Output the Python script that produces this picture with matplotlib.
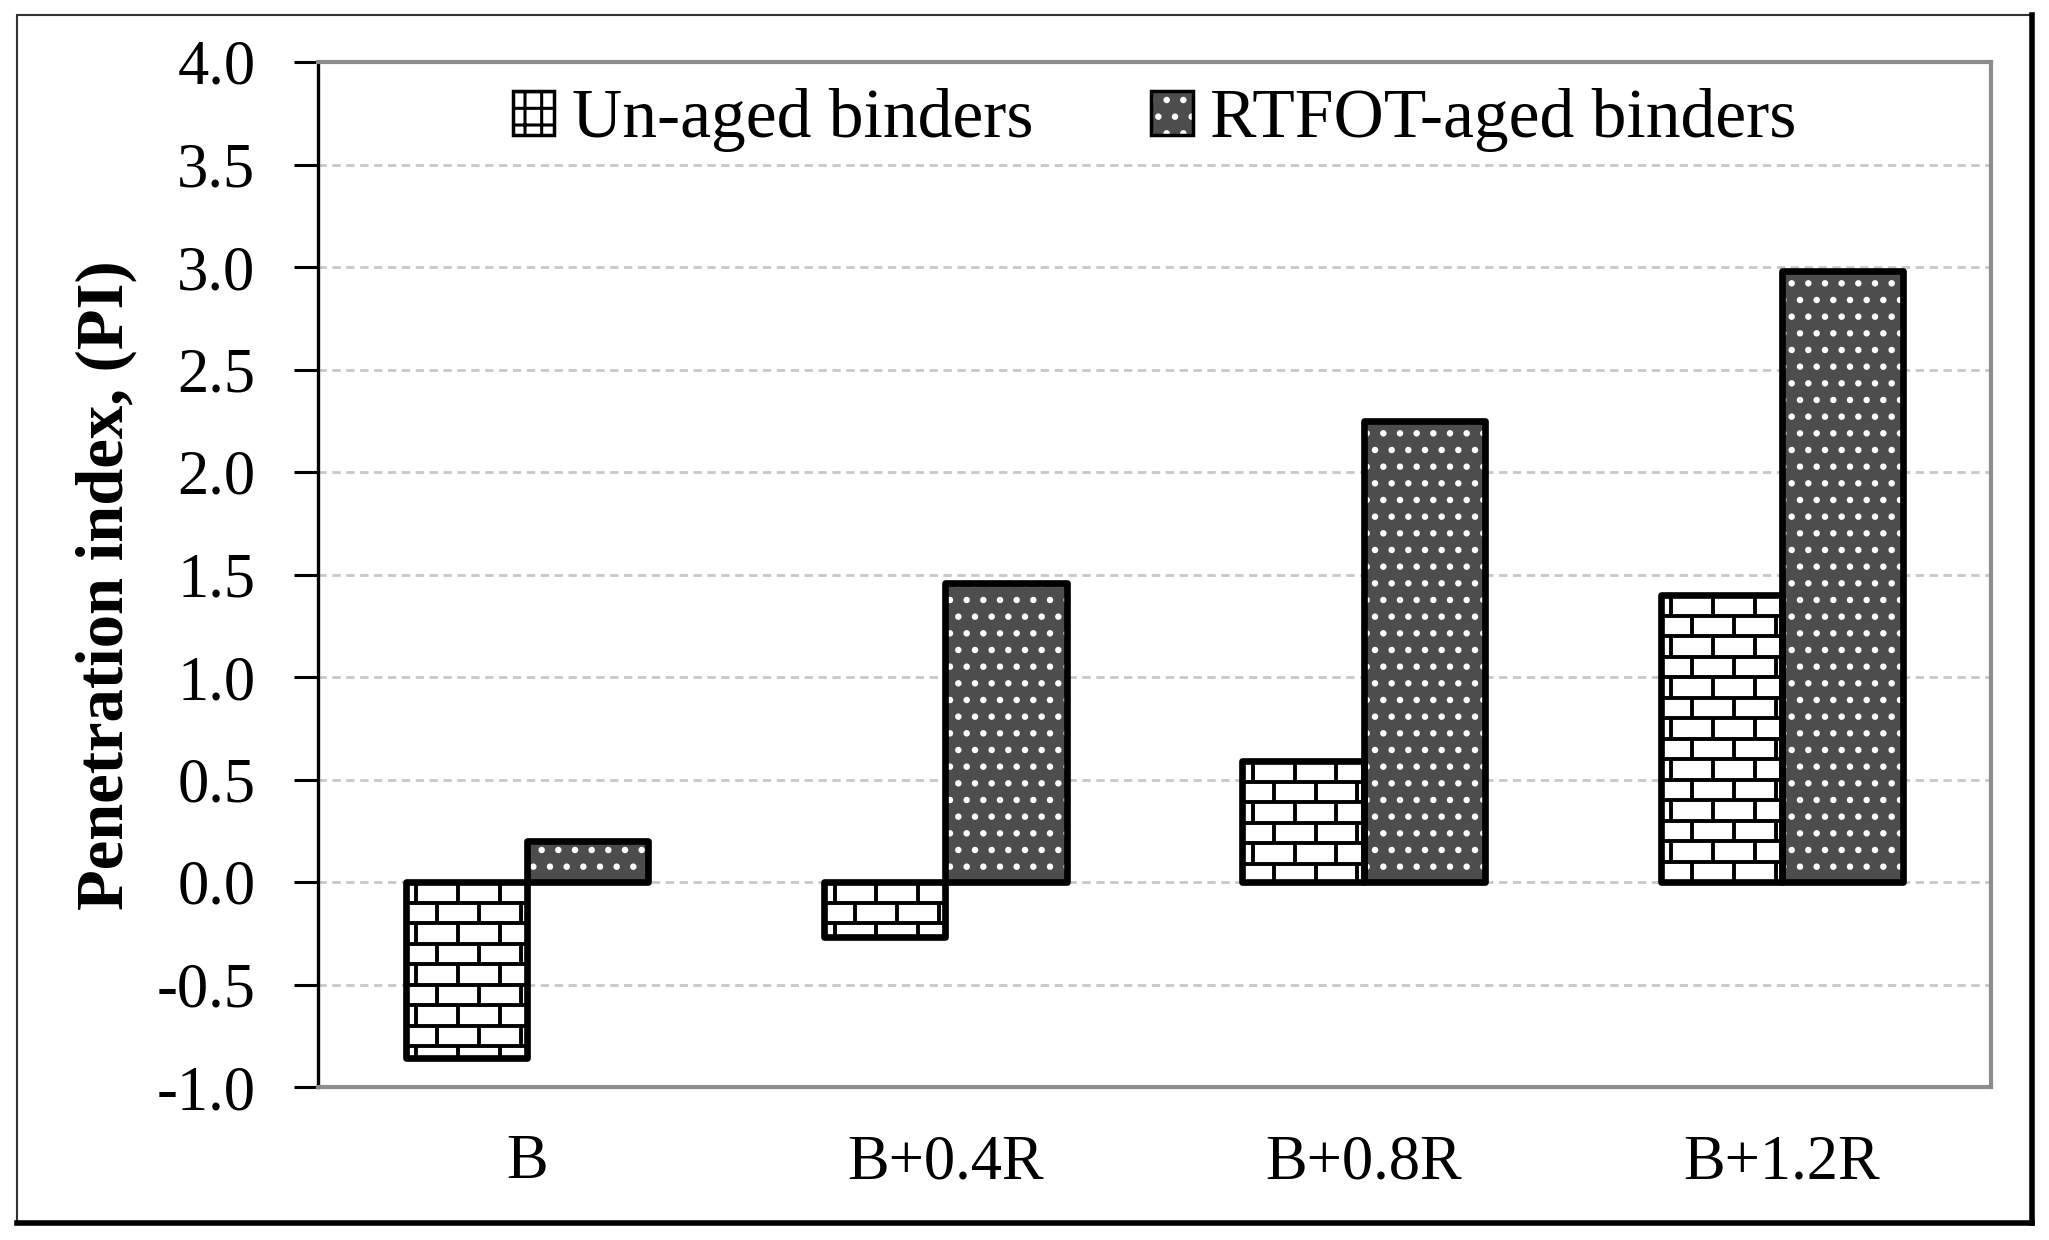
import matplotlib
matplotlib.use("Agg")
import matplotlib.pyplot as plt
import numpy as np
from matplotlib.patches import Rectangle, Patch
from matplotlib.lines import Line2D

# data
binders = ["B", "B+0.4R", "B+0.8R", "B+1.2R"]
unaged = [-0.86, -0.27, 0.59, 1.40]
rtfot = [0.20, 1.46, 2.25, 2.98]
yticks = [-1.0, -0.5, 0.0, 0.5, 1.0, 1.5, 2.0, 2.5, 3.0, 3.5, 4.0]

plt.rcParams["font.family"] = ["Liberation Serif", "DejaVu Serif"]
plt.rcParams["hatch.linewidth"] = 2.2

W, H = 2049, 1240
fig = plt.figure(figsize=(W / 100, H / 100), dpi=100)
ax = fig.add_axes([318 / W, 1 - 1087 / H, (1991 - 318) / W, (1087 - 62) / H])

x = np.arange(len(binders))
w = 0.29
dark = "#4d4d4d"

# un-aged: white bars with brick pattern
b1 = ax.bar(x - w / 2, unaged, w, color="white", edgecolor="none", zorder=2)
# RTFOT: dark fill with white dots
b2 = ax.bar(x + w / 2, rtfot, w, color=dark, edgecolor="white", hatch=".",
            linewidth=0, zorder=2)

# brick lines, clipped to each un-aged bar
row_h = 0.1
brick_w = 0.1
for rect in b1.patches:
    x0 = rect.get_x()
    x1 = x0 + rect.get_width()
    ylo = min(rect.get_y(), rect.get_y() + rect.get_height())
    yhi = max(rect.get_y(), rect.get_y() + rect.get_height())
    ys = np.arange(yhi, ylo - row_h, -row_h)
    for i in range(len(ys) - 1):
        ln = ax.plot([x0, x1], [ys[i + 1], ys[i + 1]], color="black", lw=2.8,
                     zorder=3, solid_capstyle="butt")[0]
        ln.set_clip_path(rect)
        start = x0 + (brick_w / 4 if i % 2 == 0 else brick_w * 0.75)
        for xv in np.arange(start, x1, brick_w):
            vl = ax.plot([xv, xv], [ys[i], ys[i + 1]], color="black", lw=2.8,
                         zorder=3, solid_capstyle="butt")[0]
            vl.set_clip_path(rect)

# outlines on top
ax.bar(x - w / 2, unaged, w, fill=False, edgecolor="black", linewidth=4.8,
       joinstyle="round", zorder=4)
ax.bar(x + w / 2, rtfot, w, fill=False, edgecolor="black", linewidth=4.8,
       joinstyle="round", zorder=4)

ax.set_xlim(-0.5, len(binders) - 0.5)
ax.set_ylim(-1.0, 4.0)
ax.set_yticks(yticks)
ax.set_yticklabels([f"{v:.1f}" for v in yticks])
ax.set_xticks(x)
ax.set_xticklabels(binders)

ax.yaxis.grid(True, linestyle=(0, (3, 2)), color="#c8c8c8", linewidth=2)
ax.set_axisbelow(True)

for s in ["top", "right", "bottom"]:
    ax.spines[s].set_color("#8c8c8c")
    ax.spines[s].set_linewidth(3)
ax.spines["left"].set_color("black")
ax.spines["left"].set_linewidth(2.4)

ax.tick_params(axis="y", direction="out", length=17, width=2.2,
               labelsize=45, pad=28)
ax.tick_params(axis="x", length=0, labelsize=45, pad=34)

ax.set_ylabel("Penetration index, (PI)", fontsize=48, fontweight="bold")
ax.yaxis.set_label_coords(-0.108, 0.49)

# legend
h1 = Patch(facecolor="white", edgecolor="black", hatch="+", linewidth=2.5)
h2a = Patch(facecolor=dark, edgecolor="white", hatch=".", linewidth=0)
h2b = Patch(facecolor="none", edgecolor="black", linewidth=2.5)
ax.legend([h1, (h2a, h2b)], ["Un-aged binders", "RTFOT-aged binders"],
          loc="center", bbox_to_anchor=(0.5, 0.943), ncol=2, frameon=False,
          fontsize=50, handlelength=0.6, handleheight=0.6,
          handletextpad=0.25, columnspacing=1.7)

# outer frame
fig.add_artist(Rectangle((17 / W, 1 - 1223 / H), (2032 - 17) / W, (1223 - 15) / H,
                         transform=fig.transFigure, fill=False,
                         edgecolor="#333333", linewidth=1.5))
fig.add_artist(Line2D([17 / W, 2032 / W], [1 - 1223 / H, 1 - 1223 / H],
                      transform=fig.transFigure, color="black", linewidth=4))
fig.add_artist(Line2D([2032 / W, 2032 / W], [1 - 1223 / H, 1 - 15 / H],
                      transform=fig.transFigure, color="black", linewidth=4))

fig.savefig("out.png", dpi=100)
